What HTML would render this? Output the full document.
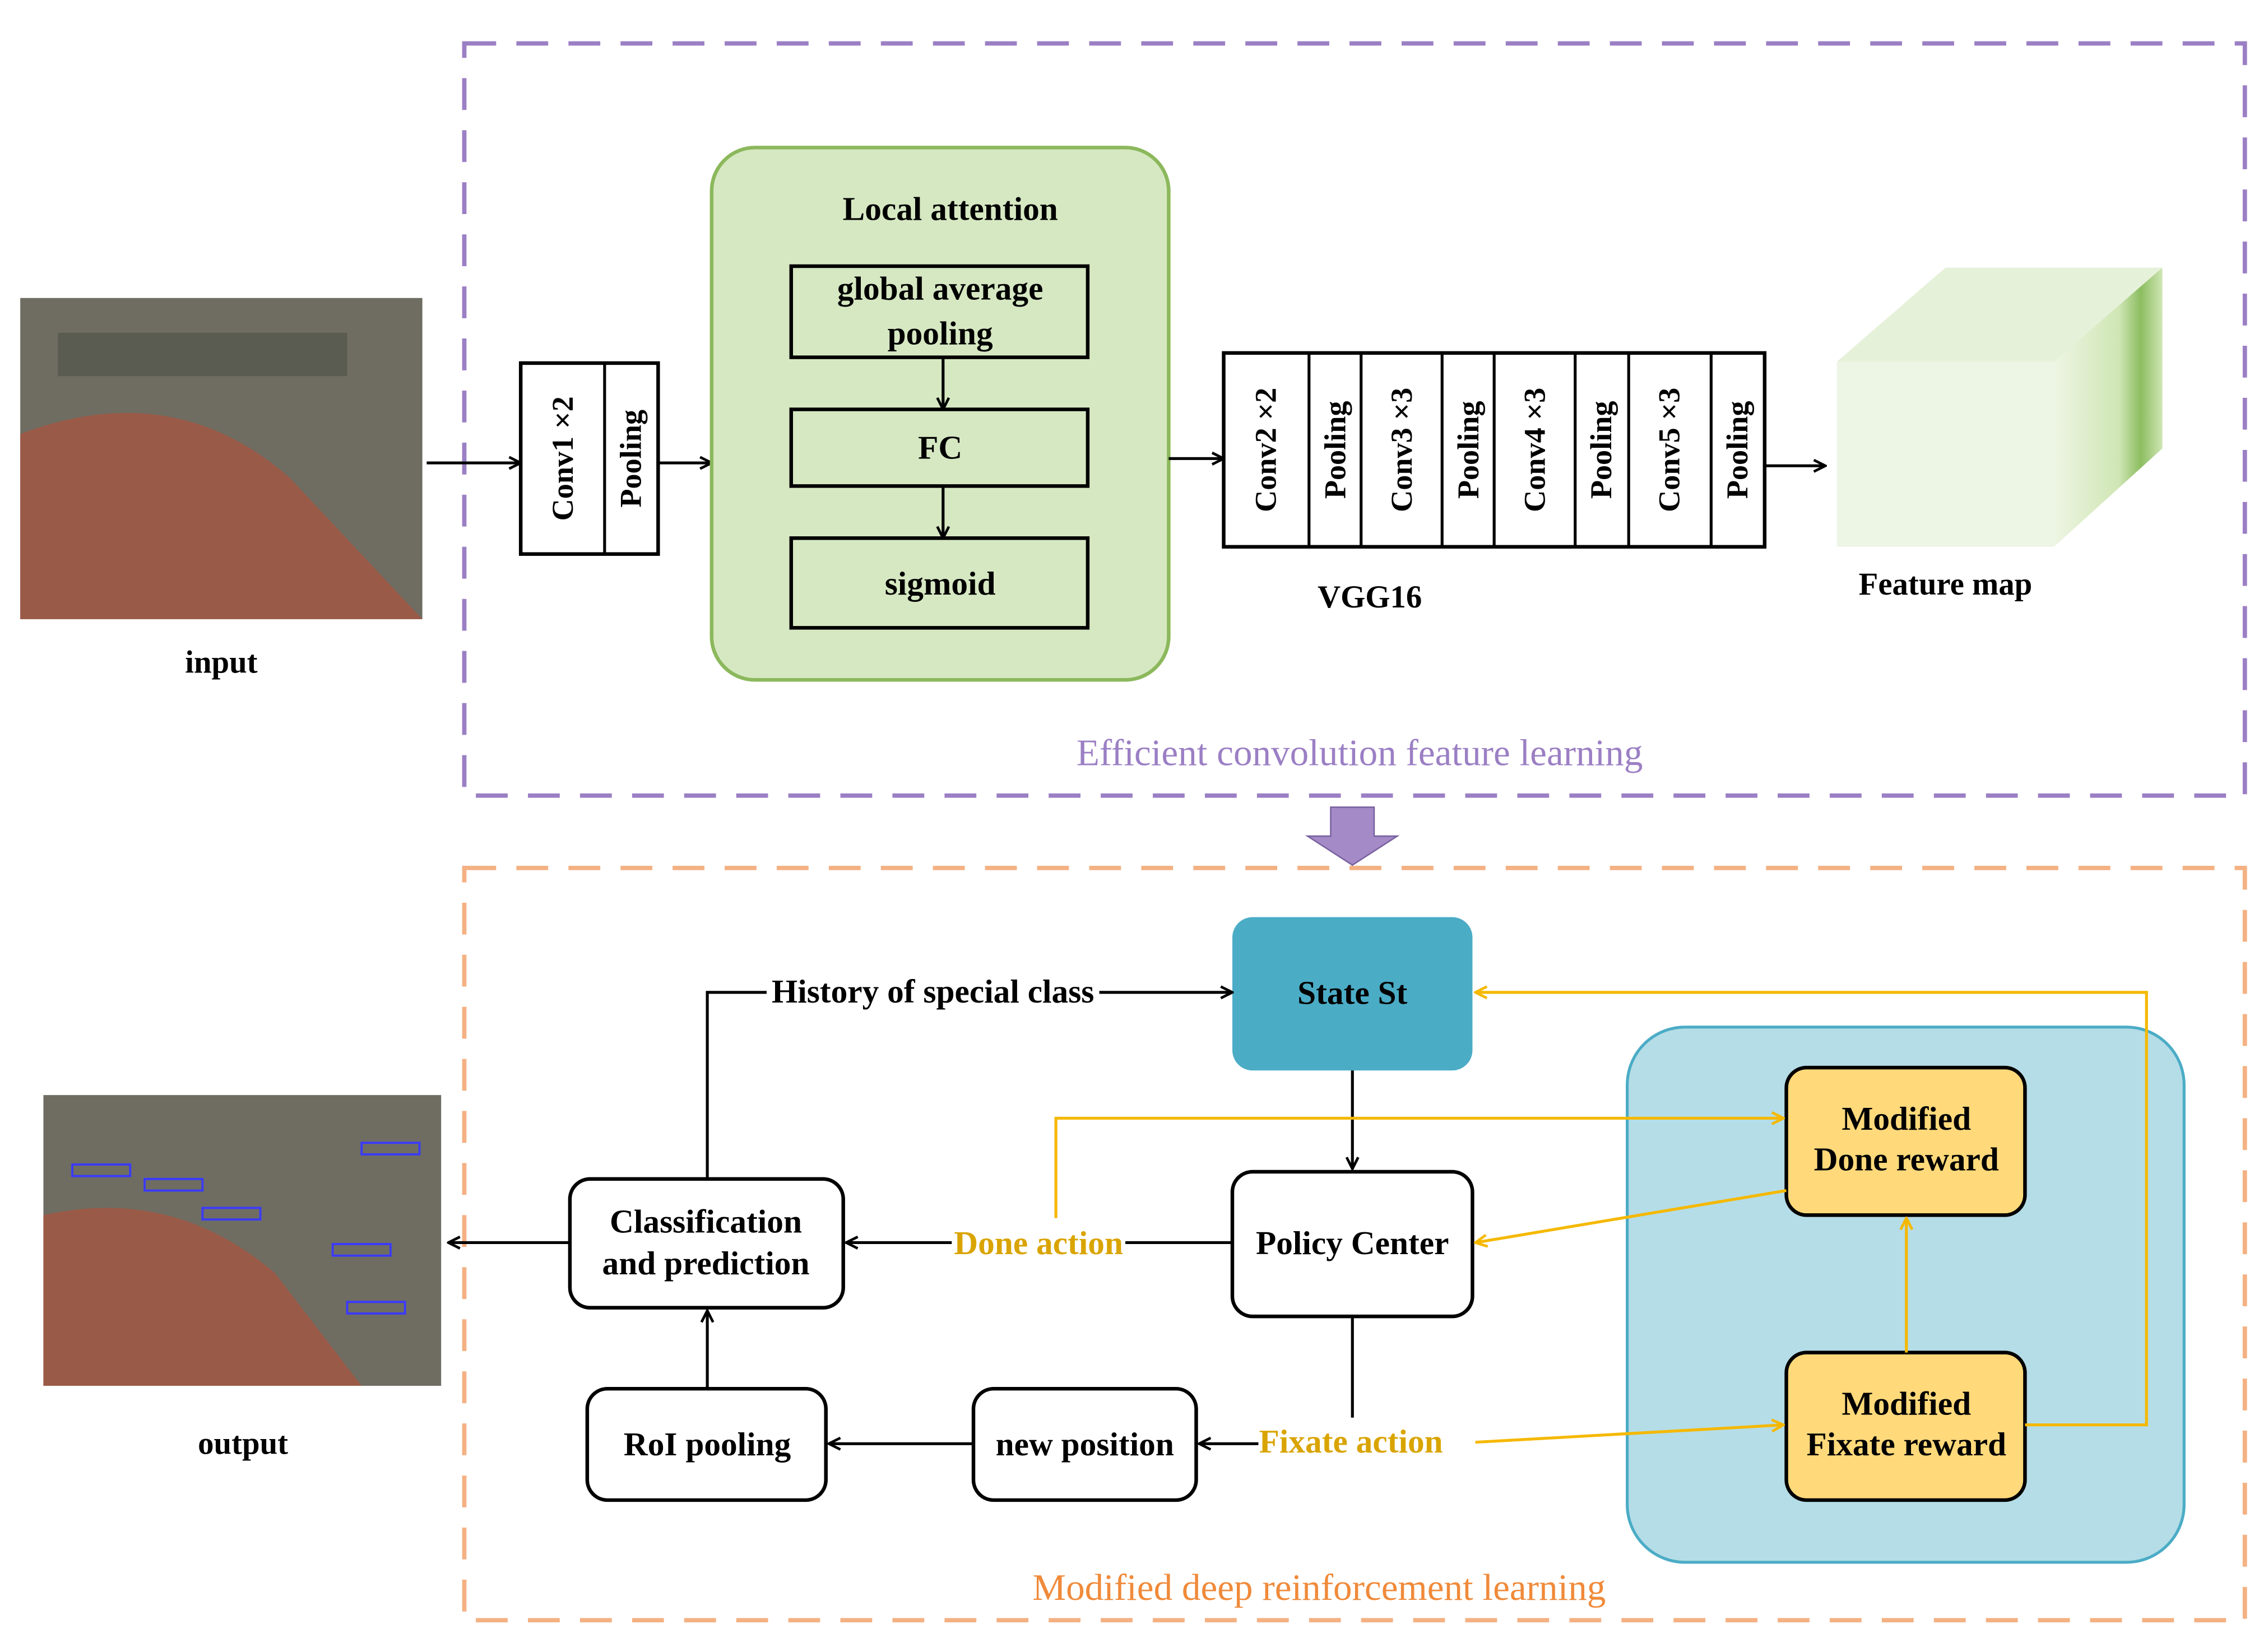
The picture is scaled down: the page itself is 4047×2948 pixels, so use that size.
<!DOCTYPE html>
<html><head><meta charset="utf-8"><style>
html,body{margin:0;padding:0;background:#fff;}
svg{display:block;}
text{font-family:"Liberation Serif",serif;font-weight:bold;}
</style></head><body>
<svg width="4047" height="2948" viewBox="0 0 1568 1142" preserveAspectRatio="none" xmlns="http://www.w3.org/2000/svg">
<defs>
<marker id="a" markerWidth="10" markerHeight="10" refX="9" refY="5" orient="auto" markerUnits="userSpaceOnUse"><path d="M1,1 L9,5 L1,9" fill="none" stroke="#000" stroke-width="1.8"/></marker>
<marker id="y" markerWidth="10" markerHeight="10" refX="9" refY="5" orient="auto" markerUnits="userSpaceOnUse"><path d="M1,1 L9,5 L1,9" fill="none" stroke="#f5b800" stroke-width="1.8"/></marker>
<linearGradient id="fm" x1="0" x2="1"><stop offset="0" stop-color="#eef5e4"/><stop offset="0.6" stop-color="#cfe6b4"/><stop offset="0.8" stop-color="#8cbd60"/><stop offset="1" stop-color="#cfe6b4"/></linearGradient>
</defs>
<rect x="321" y="30" width="1231" height="520" fill="none" stroke="#9b7fc4" stroke-width="3" stroke-dasharray="22,14"/>
<rect x="14" y="206" width="278" height="222" fill="#6f6d62"/>
<path d="M14,300 Q120,260 200,330 L292,428 L14,428Z" fill="#9a5a48"/>
<rect x="40" y="230" width="200" height="30" fill="#4d5147" opacity="0.6"/>
<text x="153" y="465" font-size="22" text-anchor="middle">input</text>
<line x1="295" y1="320" x2="360" y2="320" stroke="#000" stroke-width="2" marker-end="url(#a)"/>
<rect x="360" y="251" width="95" height="132" fill="#fff" stroke="#000" stroke-width="2.5"/>
<line x1="418" y1="251" x2="418" y2="383" stroke="#000" stroke-width="2"/>
<text transform="translate(396,317) rotate(-90)" font-size="21" text-anchor="middle">Conv1 ×2</text>
<text transform="translate(443,317) rotate(-90)" font-size="21" text-anchor="middle">Pooling</text>
<line x1="455" y1="320" x2="492" y2="320" stroke="#000" stroke-width="2" marker-end="url(#a)"/>
<rect x="492" y="102" width="316" height="368" rx="30" fill="#d6e8c2" stroke="#8cb85c" stroke-width="2.5"/>
<text x="657" y="152" font-size="23" text-anchor="middle">Local attention</text>
<rect x="547" y="184" width="205" height="63" fill="none" stroke="#000" stroke-width="2.5"/>
<text x="650" y="207" font-size="23" text-anchor="middle">global average</text>
<text x="650" y="238" font-size="23" text-anchor="middle">pooling</text>
<line x1="652" y1="247" x2="652" y2="283" stroke="#000" stroke-width="2" marker-end="url(#a)"/>
<rect x="547" y="283" width="205" height="53" fill="none" stroke="#000" stroke-width="2.5"/>
<text x="650" y="317" font-size="23" text-anchor="middle">FC</text>
<line x1="652" y1="336" x2="652" y2="372" stroke="#000" stroke-width="2" marker-end="url(#a)"/>
<rect x="547" y="372" width="205" height="62" fill="none" stroke="#000" stroke-width="2.5"/>
<text x="650" y="411" font-size="23" text-anchor="middle">sigmoid</text>
<line x1="808" y1="317" x2="846" y2="317" stroke="#000" stroke-width="2" marker-end="url(#a)"/>
<rect x="846" y="244" width="374" height="134" fill="#fff" stroke="#000" stroke-width="2.5"/>
<g stroke="#000" stroke-width="2">
<line x1="905" y1="244" x2="905" y2="378"/><line x1="941" y1="244" x2="941" y2="378"/><line x1="997" y1="244" x2="997" y2="378"/><line x1="1033" y1="244" x2="1033" y2="378"/><line x1="1089" y1="244" x2="1089" y2="378"/><line x1="1126" y1="244" x2="1126" y2="378"/><line x1="1183" y1="244" x2="1183" y2="378"/>
</g>
<g font-size="21" text-anchor="middle">
<text transform="translate(882,311) rotate(-90)">Conv2 ×2</text>
<text transform="translate(930,311) rotate(-90)">Pooling</text>
<text transform="translate(976,311) rotate(-90)">Conv3 ×3</text>
<text transform="translate(1022,311) rotate(-90)">Pooling</text>
<text transform="translate(1068,311) rotate(-90)">Conv4 ×3</text>
<text transform="translate(1114,311) rotate(-90)">Pooling</text>
<text transform="translate(1161,311) rotate(-90)">Conv5 ×3</text>
<text transform="translate(1208,311) rotate(-90)">Pooling</text>
</g>
<text x="947" y="420" font-size="22" text-anchor="middle">VGG16</text>
<line x1="1220" y1="322" x2="1262" y2="322" stroke="#000" stroke-width="2" marker-end="url(#a)"/>
<polygon points="1270,250 1345,185 1495,185 1420,250" fill="#e6f1da"/>
<polygon points="1420,250 1495,185 1495,310 1420,378" fill="url(#fm)"/>
<rect x="1270" y="250" width="150" height="128" fill="#edf5e5"/>
<text x="1345" y="411" font-size="22" text-anchor="middle">Feature map</text>
<text x="940" y="529" font-size="26" text-anchor="middle" fill="#9b7fc4" style="font-weight:normal">Efficient convolution feature learning</text>
<polygon points="920,558 950,558 950,578 966,578 935,598 904,578 920,578" fill="#a58ac8" stroke="#7a62a0" stroke-width="1"/>
<rect x="321" y="600" width="1231" height="520" fill="none" stroke="#f4b183" stroke-width="3" stroke-dasharray="22,14"/>
<rect x="30" y="757" width="275" height="201" fill="#6f6d62"/>
<path d="M30,840 Q120,820 190,880 L250,958 L30,958Z" fill="#9a5a48"/>
<g fill="none" stroke="#3a3aff" stroke-width="1.5"><rect x="50" y="805" width="40" height="8"/><rect x="100" y="815" width="40" height="8"/><rect x="140" y="835" width="40" height="8"/><rect x="230" y="860" width="40" height="8"/><rect x="240" y="900" width="40" height="8"/><rect x="250" y="790" width="40" height="8"/></g>
<text x="168" y="1005" font-size="22" text-anchor="middle">output</text>
<rect x="1125" y="710" width="385" height="370" rx="40" fill="#b5dde7" stroke="#4bacc6" stroke-width="2"/>
<rect x="852" y="634" width="166" height="106" rx="14" fill="#4bacc6"/>
<text x="935" y="694" font-size="23" text-anchor="middle">State St</text>
<rect x="1235" y="738" width="165" height="102" rx="14" fill="#ffd97a" stroke="#000" stroke-width="2.5"/>
<text x="1318" y="781" font-size="23" text-anchor="middle">Modified</text>
<text x="1318" y="809" font-size="23" text-anchor="middle">Done reward</text>
<rect x="1235" y="935" width="165" height="102" rx="14" fill="#ffd97a" stroke="#000" stroke-width="2.5"/>
<text x="1318" y="978" font-size="23" text-anchor="middle">Modified</text>
<text x="1318" y="1006" font-size="23" text-anchor="middle">Fixate reward</text>
<rect x="852" y="810" width="166" height="100" rx="14" fill="#fff" stroke="#000" stroke-width="2.5"/>
<text x="935" y="867" font-size="23" text-anchor="middle">Policy Center</text>
<rect x="394" y="815" width="189" height="89" rx="14" fill="#fff" stroke="#000" stroke-width="2.5"/>
<text x="488" y="852" font-size="23" text-anchor="middle">Classification</text>
<text x="488" y="881" font-size="23" text-anchor="middle">and prediction</text>
<rect x="406" y="960" width="165" height="77" rx="14" fill="#fff" stroke="#000" stroke-width="2.5"/>
<text x="489" y="1006" font-size="23" text-anchor="middle">RoI pooling</text>
<rect x="673" y="960" width="154" height="77" rx="14" fill="#fff" stroke="#000" stroke-width="2.5"/>
<text x="750" y="1006" font-size="23" text-anchor="middle">new position</text>
<g stroke="#000" stroke-width="2" fill="none">
<polyline points="489,815 489,686 530,686"/>
<line x1="760" y1="686" x2="852" y2="686" marker-end="url(#a)"/>
<line x1="935" y1="740" x2="935" y2="808" marker-end="url(#a)"/>
<line x1="852" y1="859" x2="778" y2="859"/>
<line x1="658" y1="859" x2="585" y2="859" marker-end="url(#a)"/>
<line x1="394" y1="859" x2="310" y2="859" marker-end="url(#a)"/>
<line x1="935" y1="910" x2="935" y2="980"/>
<line x1="870" y1="998" x2="829" y2="998" marker-end="url(#a)"/>
<line x1="673" y1="998" x2="573" y2="998" marker-end="url(#a)"/>
<line x1="489" y1="960" x2="489" y2="906" marker-end="url(#a)"/>
</g>
<text x="645" y="693" font-size="23" text-anchor="middle">History of special class</text>
<g stroke="#f5b800" stroke-width="2" fill="none">
<polyline points="730,842 730,773 1233,773" marker-end="url(#y)"/>
<line x1="1235" y1="823" x2="1020" y2="859" marker-end="url(#y)"/>
<line x1="1020" y1="997" x2="1233" y2="985" marker-end="url(#y)"/>
<line x1="1318" y1="935" x2="1318" y2="842" marker-end="url(#y)"/>
<polyline points="1400,985 1484,985 1484,686 1020,686" marker-end="url(#y)"/>
</g>
<text x="718" y="867" font-size="23" text-anchor="middle" fill="#d9a400">Done action</text>
<text x="934" y="1004" font-size="23" text-anchor="middle" fill="#d9a400">Fixate action</text>
<text x="912" y="1106" font-size="26" text-anchor="middle" fill="#f08a3a" style="font-weight:normal">Modified deep reinforcement learning</text>
</svg>
</body></html>
